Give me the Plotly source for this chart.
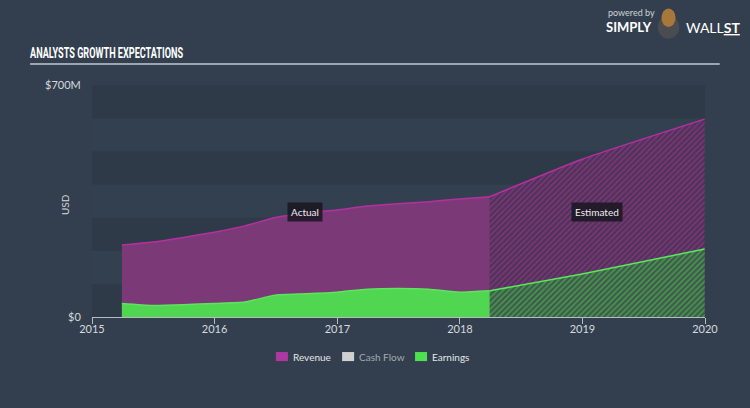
"""Analysts growth expectations: revenue and earnings, actual vs estimated."""

import plotly.graph_objects as go

# Actual values (USD millions), quarterly
actual_dates = [
    "2015-03-31", "2015-06-30", "2015-09-30", "2015-12-31",
    "2016-03-31", "2016-06-30", "2016-09-30", "2016-12-31",
    "2017-03-31", "2017-06-30", "2017-09-30", "2017-12-31",
    "2018-03-31",
]
actual_revenue = [217, 226, 240, 256, 275, 300, 314, 323, 335, 342, 348, 356, 363]
actual_earnings = [41, 35, 37, 41, 45, 66, 70, 75, 84, 86, 84, 75, 79]

# Analyst estimates (USD millions)
est_dates = ["2018-03-31", "2018-12-31", "2019-12-31"]
est_revenue = [363, 476, 597]
est_earnings = [79, 130, 205]

y_ticks = [0, 700]
y_tick_text = ["$0", "$700M"]
band_edges = [0, 100, 200, 300, 400, 500, 600, 700]

legend_names = ["Revenue", "Cash Flow", "Earnings"]
legend_colors = ["#b0379f", "#d0d0d0", "#4ee04e"]
legend_text_colors = ["#e4e6e8", "#a4aab0", "#e4e6e8"]
legend_x = [0.300, 0.408, 0.527]   # swatch left edges, paper units

BG = "#333f4e"
REV_LINE = "#b5309f"
REV_FILL = "#7b3a77"
EARN_LINE = "#5ce65c"
EARN_FILL = "#50d650"
TEXT = "#d6dade"

fig = go.Figure()

fig.add_trace(go.Scatter(
    x=actual_dates, y=actual_revenue, mode="lines", fill="tozeroy",
    line=dict(color=REV_LINE, width=1.5, shape="spline", smoothing=0.5),
    fillcolor=REV_FILL, showlegend=False, hoverinfo="skip",
))
fig.add_trace(go.Scatter(
    x=est_dates, y=est_revenue, mode="lines", fill="tozeroy",
    line=dict(color=REV_LINE, width=1.5, shape="spline", smoothing=0.5),
    fillcolor="#4e3258",
    fillpattern=dict(shape="/", fgcolor="#a53a98", bgcolor="#4e3258", size=4, solidity=0.45),
    showlegend=False, hoverinfo="skip",
))
fig.add_trace(go.Scatter(
    x=actual_dates, y=actual_earnings, mode="lines", fill="tozeroy",
    line=dict(color=EARN_LINE, width=1.5, shape="spline", smoothing=0.5),
    fillcolor=EARN_FILL, showlegend=False, hoverinfo="skip",
))
fig.add_trace(go.Scatter(
    x=est_dates, y=est_earnings, mode="lines", fill="tozeroy",
    line=dict(color=EARN_LINE, width=1.5, shape="spline", smoothing=0.5),
    fillcolor="#3d5a4a",
    fillpattern=dict(shape="/", fgcolor="#55cf55", bgcolor="#3d5a4a", size=4, solidity=0.45),
    showlegend=False, hoverinfo="skip",
))

# Alternating horizontal bands behind the plot
for i in range(len(band_edges) - 1):
    fig.add_shape(
        type="rect", xref="x", yref="y", layer="below", line_width=0,
        x0="2015-01-01", x1="2020-01-01", y0=band_edges[i], y1=band_edges[i + 1],
        fillcolor="#2e3a48" if i % 2 == 0 else "#334050",
    )

# Title underline
fig.add_shape(type="line", xref="paper", yref="paper", x0=-0.101, x1=1.024, y0=1.0905, y1=1.0905,
              line=dict(color="#c4c9ce", width=1.5))

# Hand-drawn legend (square swatches, tight spacing)
for name, color, tcolor, lx in zip(legend_names, legend_colors, legend_text_colors, legend_x):
    fig.add_shape(type="rect", xref="paper", yref="paper", line_width=0, fillcolor=color,
                  x0=lx, x1=lx + 0.0196, y0=-0.151, y1=-0.190)
    fig.add_annotation(xref="paper", yref="paper", x=lx + 0.025, y=-0.171, xanchor="left",
                       yanchor="middle", text=name, showarrow=False,
                       font=dict(family="Lato", size=10, color=tcolor))

label_box = dict(font=dict(family="Lato", size=10, color="#eeeeee"),
                 bgcolor="rgba(25,22,32,0.85)", borderpad=3, showarrow=False)
fig.add_annotation(x="2016-09-27", y=317, text="Actual", **label_box)
fig.add_annotation(x="2019-02-14", y=317, text="Estimated", **label_box)

fig.add_annotation(xref="paper", yref="paper", x=-0.057, y=0.483, text="USD", textangle=-90,
                   showarrow=False, font=dict(family="Lato", size=10, color=TEXT))

# Title (centred so the squeeze below keeps it in place)
fig.add_annotation(xref="paper", yref="paper", x=0.0237, y=1.138, xanchor="center", yanchor="middle",
                   text="ANALYSTS GROWTH EXPECTATIONS", showarrow=False,
                   font=dict(family="Roboto", size=14, weight=700, color="#ffffff"))

# Logo
fig.add_annotation(xref="paper", yref="paper", x=0.838, y=1.311, xanchor="left", yanchor="middle",
                   text="powered by", showarrow=False,
                   font=dict(family="Lato", size=9, color="#cfd3d8"))
fig.add_annotation(xref="paper", yref="paper", x=0.836, y=1.250, xanchor="left", yanchor="middle",
                   text="<b>SIMPLY</b>", showarrow=False,
                   font=dict(family="Lato", size=13, color="#ffffff"))
fig.add_shape(type="circle", xref="paper", yref="paper", line_width=0, fillcolor="#4b4c50",
              x0=0.923, x1=0.958, y0=1.20, y1=1.30)
fig.add_shape(type="circle", xref="paper", yref="paper", line_width=0, fillcolor="#a8783a",
              x0=0.929, x1=0.952, y0=1.25, y1=1.33)
fig.add_annotation(xref="paper", yref="paper", x=0.965, y=1.250, xanchor="left", yanchor="middle",
                   text="WALL<u><b>ST</b></u>", showarrow=False,
                   font=dict(family="Lato", size=14, color="#ffffff"))

fig.update_xaxes(
    type="date", range=["2015-01-01", "2020-01-01"], dtick="M12", tickformat="%Y",
    tick0="2015-01-01", showgrid=False, zeroline=False,
    showline=True, linecolor="#b7bcc2", linewidth=1,
    ticks="outside", ticklen=6, tickcolor="#b7bcc2", ticklabelstandoff=-4,
    tickfont=dict(family="Lato", size=11, color=TEXT),
)
fig.update_yaxes(
    range=[0, 700], tickvals=y_ticks, ticktext=y_tick_text, showgrid=False, zeroline=False,
    ticks="outside", ticklen=8, tickcolor="rgba(0,0,0,0)",
    tickfont=dict(family="Lato", size=11, color=TEXT),
)

fig.update_layout(
    width=750, height=408,
    margin=dict(l=92, r=45, t=85, b=91),
    paper_bgcolor=BG, plot_bgcolor=BG,
    showlegend=False,
)

# Squeeze the title into the narrow width of the original condensed typeface
post = """
document.body.style.margin = '0';
var gd = document.getElementById('{plot_id}');
function squeezeTitle() {
  document.querySelectorAll('text').forEach(function (t) {
    if (t.textContent.indexOf('ANALYSTS') === 0) {
      t.setAttribute('textLength', '153');
      t.setAttribute('lengthAdjust', 'spacingAndGlyphs');
    }
  });
}
squeezeTitle();
if (gd && gd.on) { gd.on('plotly_afterplot', squeezeTitle); }
"""

fig.write_html("out.html", post_script=post, config={"displayModeBar": False})
